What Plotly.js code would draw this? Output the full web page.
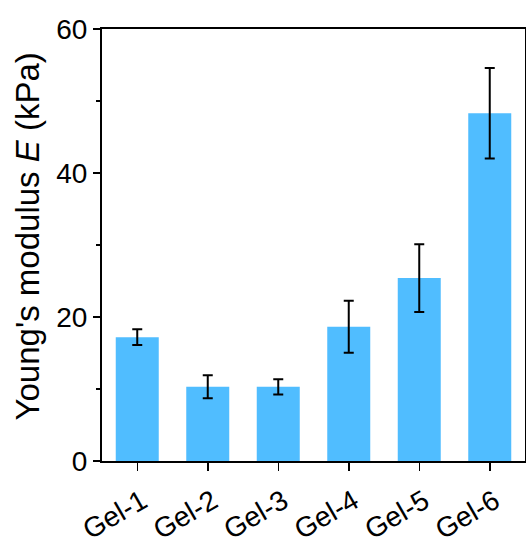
<!DOCTYPE html>
<html>
<head>
<meta charset="utf-8">
<script src="https://cdn.plot.ly/plotly-3.0.1.min.js"></script>
<style>html,body{margin:0;padding:0;background:#fff;}#chart{width:526px;height:545px;}</style>
</head>
<body>
<div id="chart"></div>
<script>
const categories = ["Gel-1", "Gel-2", "Gel-3", "Gel-4", "Gel-5", "Gel-6"];
const modulus = [17.2, 10.3, 10.3, 18.65, 25.4, 48.3];
const errors = [1.1, 1.6, 1.05, 3.6, 4.7, 6.3];
const yTicks = [0, 20, 40, 60];
const yTitle = "Young's modulus <i>E</i> (kPa)";

const trace = {
  type: 'bar',
  x: categories,
  y: modulus,
  width: 0.61,
  marker: {color: 'rgb(80,189,255)', line: {width: 0}},
  error_y: {type: 'data', array: errors, visible: true, color: '#000', thickness: 2, width: 5}
};

const layout = {
  width: 526, height: 545,
  margin: {l: 102, r: 1, t: 29, b: 84},
  paper_bgcolor: '#fff', plot_bgcolor: '#fff',
  showlegend: false,
  font: {family: 'Liberation Sans, Arial, sans-serif', color: '#000', size: 28},
  xaxis: {
    range: [-0.5, 5.5],
    showline: true, linecolor: '#000', linewidth: 2, mirror: true,
    ticks: 'outside', ticklen: 8, tickwidth: 1.5, tickcolor: '#000',
    tickangle: -30, tickfont: {size: 28},
    ticklabelstandoff: 3, ticklabelshift: 5,
    showgrid: false, zeroline: false
  },
  yaxis: {
    range: [0, 60],
    tickvals: yTicks, ticktext: yTicks.map(String),
    showline: true, linecolor: '#000', linewidth: 2, mirror: true,
    ticks: 'outside', ticklen: 7, tickwidth: 1.5, tickcolor: '#000',
    minor: {dtick: 10, tick0: 0, ticks: 'outside', ticklen: 4, tickwidth: 1.5, tickcolor: '#000', showgrid: false},
    tickfont: {size: 28},
    showgrid: false, zeroline: false
  },
  annotations: [{
    text: yTitle, textangle: -90, showarrow: false,
    xref: 'paper', yref: 'paper', x: -0.177, y: 0.52,
    xanchor: 'center', yanchor: 'middle',
    font: {size: 33, color: '#000'}
  }]
};

Plotly.newPlot('chart', [trace], layout, {displayModeBar: false, staticPlot: true});
</script>
</body>
</html>
